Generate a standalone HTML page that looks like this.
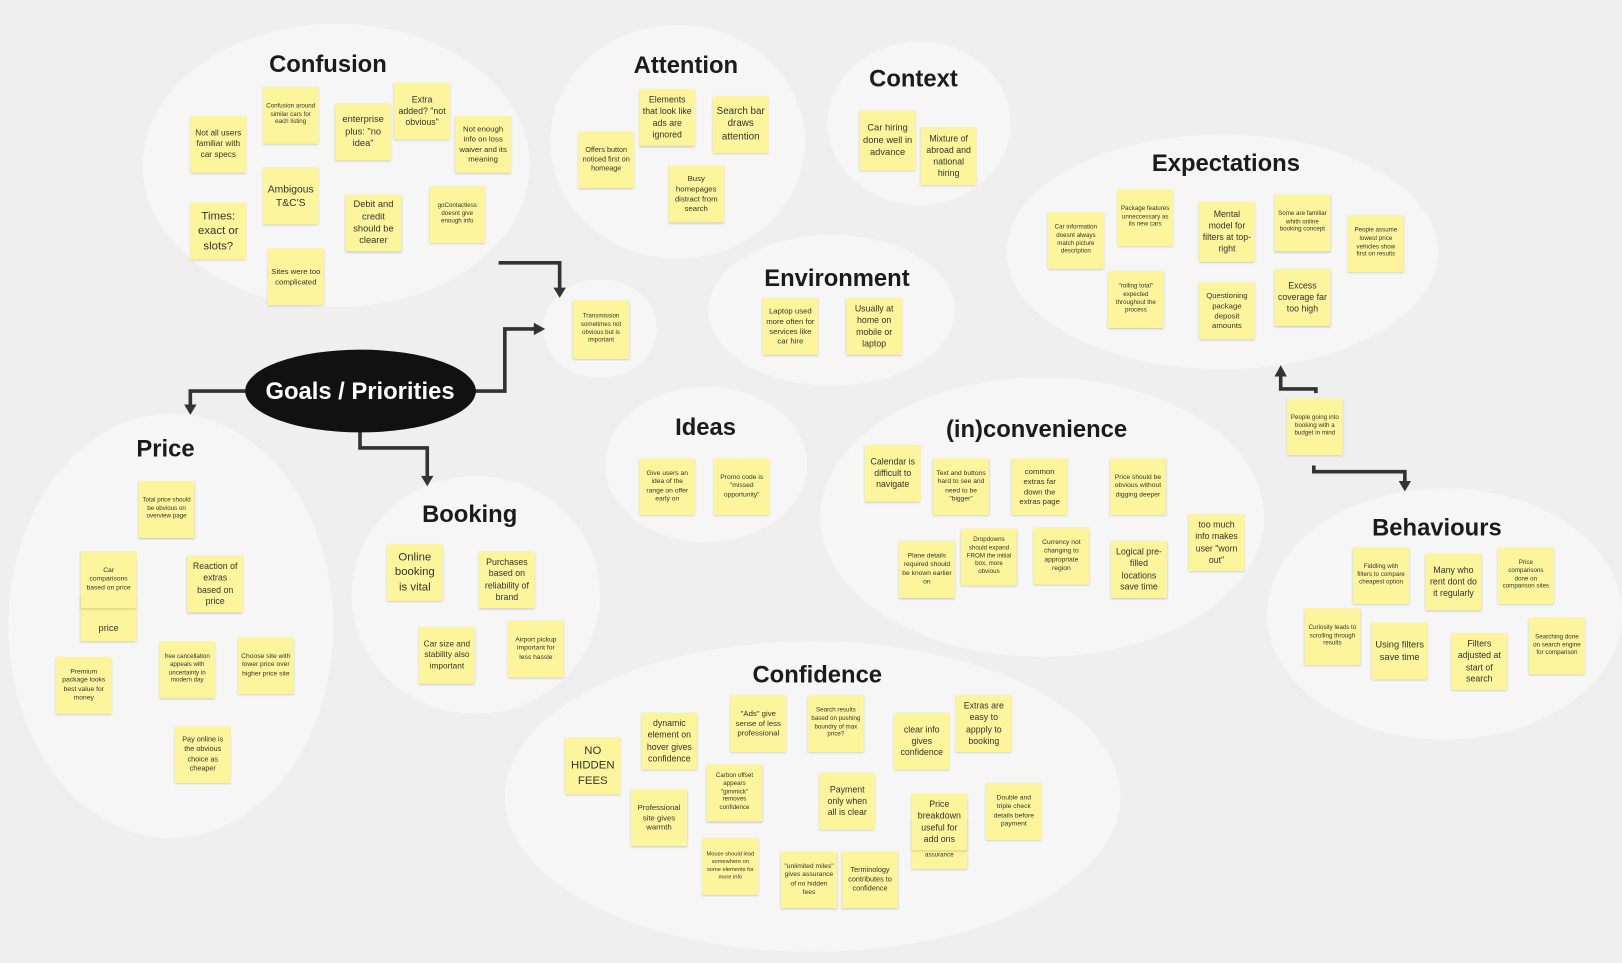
<!DOCTYPE html>
<html><head><meta charset="utf-8"><style>
html,body{margin:0;padding:0;background:#efefef;overflow:hidden}
#w{position:relative;width:1568px;height:931px;transform:scale(1.0345);transform-origin:0 0;font-family:"Liberation Sans",sans-serif}
.e{position:absolute;border-radius:50%;background:#f6f6f6}
.t{position:absolute;font-weight:bold;font-size:23px;color:#1b1b1b;transform:translate(-50%,-50%);white-space:nowrap}
.s{position:absolute;width:54px;height:55px;background:#fdf59c;box-shadow:0 1px 2px rgba(0,0,0,.22);display:flex;align-items:center;justify-content:center;text-align:center;color:#333;line-height:1.3;box-sizing:border-box;padding:2px 3px;font-size:7px}
svg{position:absolute;left:0;top:0}
</style></head><body><div id="w">
<div class="e" style="left:138px;top:23px;width:374px;height:274px"></div>
<div class="e" style="left:532px;top:24px;width:246px;height:226px"></div>
<div class="e" style="left:800px;top:40px;width:177px;height:158px"></div>
<div class="e" style="left:685px;top:227px;width:238px;height:146px"></div>
<div class="e" style="left:525px;top:270px;width:110px;height:95px"></div>
<div class="e" style="left:973px;top:130px;width:417px;height:227px"></div>
<div class="e" style="left:585px;top:374px;width:195px;height:150px"></div>
<div class="e" style="left:793px;top:365px;width:429px;height:270px"></div>
<div class="e" style="left:8px;top:400px;width:314px;height:410px"></div>
<div class="e" style="left:340px;top:460px;width:240px;height:230px"></div>
<div class="e" style="left:488px;top:620px;width:595px;height:300px"></div>
<div class="e" style="left:1225px;top:472px;width:343px;height:243px"></div>

<svg width="1568" height="931" fill="none" stroke="#333" stroke-width="3.5">
<polyline points="482,254 541,254 541,280"/><polygon points="535,278 547,278 541,288" fill="#333" stroke="none"/>
<polyline points="458,378 488,378 488,318 518,318"/><polygon points="516,312 516,324 527,318" fill="#333" stroke="none"/>
<polyline points="240,378 184,378 184,393"/><polygon points="178,391 190,391 184,401" fill="#333" stroke="none"/>
<polyline points="348,415 348,433 413,433 413,462"/><polygon points="407,460 419,460 413,470" fill="#333" stroke="none"/>
<polyline points="1272,380 1272,376 1238,376 1238,362"/><polygon points="1232,364 1244,364 1238,353" fill="#333" stroke="none"/>
<polyline points="1270,450 1270,456 1358,456 1358,467"/><polygon points="1352,465 1364,465 1358,475" fill="#333" stroke="none"/>
</svg>
<div style="position:absolute;left:237px;top:338px;width:223px;height:80px;border-radius:50%;background:#111"></div>
<div class="t" style="left:348px;top:378px;color:#fff;font-size:23px">Goals / Priorities</div>

<div class="t" style="left:317px;top:62px">Confusion</div>
<div class="t" style="left:663px;top:63px">Attention</div>
<div class="t" style="left:883px;top:76px">Context</div>
<div class="t" style="left:1185px;top:158px">Expectations</div>
<div class="t" style="left:809px;top:269px">Environment</div>
<div class="t" style="left:682px;top:413px">Ideas</div>
<div class="t" style="left:1002px;top:415px">(in)convenience</div>
<div class="t" style="left:160px;top:434px">Price</div>
<div class="t" style="left:454px;top:497px">Booking</div>
<div class="t" style="left:790px;top:652px">Confidence</div>
<div class="t" style="left:1389px;top:510px">Behaviours</div>

<div class="s" style="left:184px;top:112px;font-size:8px">Not all users familiar with car specs</div>
<div class="s" style="left:254px;top:84px;font-size:6px">Confusion around similar cars for each listing</div>
<div class="s" style="left:324px;top:100px;font-size:9px">enterprise plus: "no idea"</div>
<div class="s" style="left:381px;top:80px;font-size:8.5px">Extra added? "not obvious"</div>
<div class="s" style="left:440px;top:112px;font-size:7.5px">Not enough info on loss waiver and its meaning</div>
<div class="s" style="left:254px;top:162px;font-size:10px">Ambigous T&amp;C'S</div>
<div class="s" style="left:184px;top:196px;font-size:11px">Times: exact or slots?</div>
<div class="s" style="left:334px;top:188px;font-size:9px">Debit and credit should be clearer</div>
<div class="s" style="left:415px;top:180px;font-size:6px">goContactless doesnt give enough info</div>
<div class="s" style="left:259px;top:240px;font-size:7.5px">Sites were too complicated</div>

<div class="s" style="left:559px;top:127px;font-size:7px">Offers button noticed first on homeage</div>
<div class="s" style="left:618px;top:86px;font-size:8.5px">Elements that look like ads are ignored</div>
<div class="s" style="left:689px;top:93px;font-size:9.5px">Search bar draws attention</div>
<div class="s" style="left:646px;top:160px;font-size:7.5px">Busy homepages distract from search</div>

<div class="s" style="left:831px;top:107px;height:58px;font-size:9px">Car hiring done well in advance</div>
<div class="s" style="left:890px;top:123px;height:56px;font-size:8.5px">Mixture of abroad and national hiring</div>

<div class="s" style="left:737px;top:288px;font-size:7.5px">Laptop used more often for services like car hire</div>
<div class="s" style="left:818px;top:288px;font-size:8.5px">Usually at home on mobile or laptop</div>
<div class="s" style="left:554px;top:290px;height:57px;font-size:6px">Transmission sometimes not obvious but is important</div>

<div class="s" style="left:1013px;top:205px;font-size:6px">Car information doesnt always match picture description</div>
<div class="s" style="left:1080px;top:183px;font-size:6px">Package features unneccessary as its new cars</div>
<div class="s" style="left:1159px;top:195px;height:58px;font-size:8.5px">Mental model for filters at top-right</div>
<div class="s" style="left:1232px;top:188px;font-size:6px">Some are familiar whith online booking concept</div>
<div class="s" style="left:1303px;top:208px;font-size:6px">People assume lowest price vehicles show first on results</div>
<div class="s" style="left:1071px;top:262px;font-size:6px">"rolling total" expected throughout the process</div>
<div class="s" style="left:1159px;top:273px;font-size:7.5px">Questioning package deposit amounts</div>
<div class="s" style="left:1232px;top:260px;font-size:8.5px">Excess coverage far too high</div>
<div class="s" style="left:1244px;top:385px;font-size:6px">People going into booking with a budget in mind</div>

<div class="s" style="left:618px;top:443px;font-size:6.5px">Give users an idea of the range on offer early on</div>
<div class="s" style="left:690px;top:443px;font-size:6.5px">Promo code is "missed opportunity"</div>

<div class="s" style="left:836px;top:430px;font-size:8.5px">Calendar is difficult to navigate</div>
<div class="s" style="left:902px;top:443px;font-size:6.5px">Text and buttons hard to see and need to be "bigger"</div>
<div class="s" style="left:978px;top:443px;font-size:7.5px">common extras far down the extras page</div>
<div class="s" style="left:1073px;top:443px;font-size:6.5px">Price should be obvious without digging deeper</div>
<div class="s" style="left:869px;top:523px;font-size:6.5px">Plane details required should be known earlier on</div>
<div class="s" style="left:929px;top:511px;font-size:6px">Dropdowns should expand FROM the initial box, more obvious</div>
<div class="s" style="left:999px;top:510px;font-size:6.5px">Currency not changing to appropriate region</div>
<div class="s" style="left:1074px;top:523px;font-size:8.5px">Logical pre-filled locations save time</div>
<div class="s" style="left:1149px;top:497px;font-size:8.5px">too much info makes user "worn out"</div>

<div class="s" style="left:1308px;top:529px;font-size:6px">Fiddling with filters to compare cheapest option</div>
<div class="s" style="left:1378px;top:535px;font-size:8.5px">Many who rent dont do it regularly</div>
<div class="s" style="left:1448px;top:529px;font-size:6px">Price comparisons done on comparison sites</div>
<div class="s" style="left:1261px;top:588px;font-size:6px">Curiosity leads to scrolling through results</div>
<div class="s" style="left:1326px;top:602px;font-size:9px">Using filters save time</div>
<div class="s" style="left:1403px;top:612px;font-size:8.5px">Filters adjusted at start of search</div>
<div class="s" style="left:1478px;top:597px;font-size:6px">Searching done on search engine for comparison</div>

<div class="s" style="left:134px;top:465px;font-size:6px">Total price should be obvious on overview page</div>
<div class="s" style="left:78px;top:575px;height:45px;font-size:9px;align-items:flex-end;padding-bottom:6px">price</div>
<div class="s" style="left:78px;top:533px;font-size:6.5px">Car comparisons based on price</div>
<div class="s" style="left:181px;top:537px;font-size:8.5px">Reaction of extras based on price</div>
<div class="s" style="left:54px;top:635px;font-size:6.5px">Premium package looks best value for money</div>
<div class="s" style="left:154px;top:620px;font-size:6px">free cancellation appeals with uncertainty in modern day</div>
<div class="s" style="left:230px;top:616px;font-size:6.5px">Choose site with lower price over higher price site</div>
<div class="s" style="left:169px;top:702px;font-size:7px">Pay online is the obvious choice as cheaper</div>

<div class="s" style="left:374px;top:526px;font-size:11px">Online booking is vital</div>
<div class="s" style="left:463px;top:533px;font-size:8.5px">Purchases based on reliability of brand</div>
<div class="s" style="left:405px;top:606px;font-size:8px">Car size and stability also important</div>
<div class="s" style="left:491px;top:600px;font-size:6.5px">Airport pickup important for less hassle</div>

<div class="s" style="left:546px;top:713px;font-size:11px">NO HIDDEN FEES</div>
<div class="s" style="left:620px;top:689px;font-size:8.5px">dynamic element on hover gives confidence</div>
<div class="s" style="left:706px;top:672px;font-size:7.5px">"Ads" give sense of less professional</div>
<div class="s" style="left:781px;top:672px;font-size:6px">Search results based on pushing boundry of max price?</div>
<div class="s" style="left:864px;top:689px;font-size:8.5px">clear info gives confidence</div>
<div class="s" style="left:924px;top:672px;font-size:8.5px">Extras are easy to appply to booking</div>
<div class="s" style="left:683px;top:739px;font-size:6px">Carbon offset appears "gimmick" removes confidence</div>
<div class="s" style="left:610px;top:763px;font-size:7.5px">Professional site gives warmth</div>
<div class="s" style="left:792px;top:747px;font-size:8.5px">Payment only when all is clear</div>
<div class="s" style="left:881px;top:790px;height:50px;font-size:6px;align-items:flex-end;padding-bottom:8px">assurance</div>
<div class="s" style="left:881px;top:767px;font-size:8.5px">Price breakdown useful for add ons</div>
<div class="s" style="left:953px;top:757px;font-size:6.5px">Double and triple check details before payment</div>
<div class="s" style="left:679px;top:810px;font-size:5.5px">Mouse should lead somewhere on some elements for more info</div>
<div class="s" style="left:755px;top:823px;font-size:6.5px">"unlimited miles" gives assurance of no hidden fees</div>
<div class="s" style="left:814px;top:823px;font-size:7px">Terminology contributes to confidence</div>
</div></body></html>
